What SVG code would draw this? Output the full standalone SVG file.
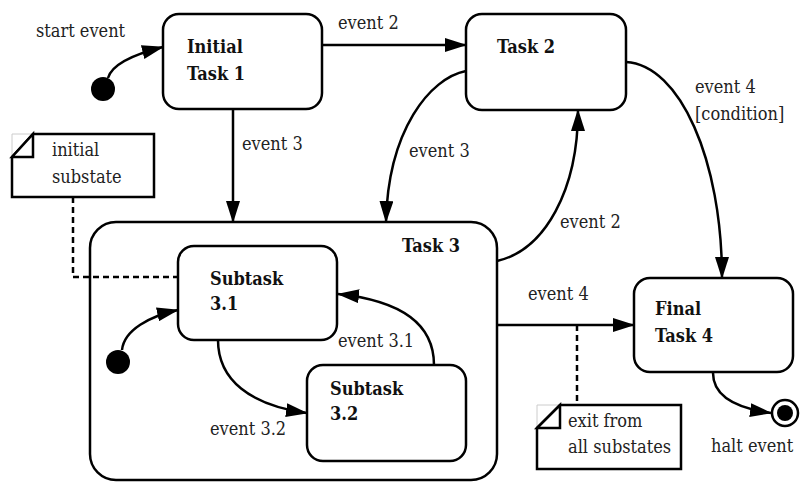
<svg xmlns="http://www.w3.org/2000/svg" width="800" height="482" viewBox="0 0 800 482">
<defs>
<marker id="arr" markerUnits="userSpaceOnUse" markerWidth="22" markerHeight="14" refX="21" refY="7" orient="auto">
<path d="M0,0 L22,7 L0,14 Z" fill="#000"/>
</marker>
<style>
.box{fill:#fff;stroke:#000;stroke-width:2.5}
.t{fill:#222}
.b{font-weight:bold;fill:#111}
.e{fill:none;stroke:#000;stroke-width:2.5;marker-end:url(#arr)}
.d{fill:none;stroke:#000;stroke-width:2.5;stroke-dasharray:6,4}
.note{fill:#fff;stroke:#000;stroke-width:2.5;stroke-linejoin:miter}
.ghost{fill:none;stroke:#ccc;stroke-width:1}
</style>
</defs>
<rect width="800" height="482" fill="#fff"/>
<g font-family="DejaVu Serif, Liberation Serif, serif" font-size="18" font-stretch="condensed">

<g id="task3">
<rect class="box" x="90" y="222" width="407" height="258" rx="26" ry="26"/>
<text class="b" x="402" y="252">Task 3</text>
</g>

<g id="connectors">
<path class="e" d="M108,78 C112,64 135,54 163,47"/>
<path class="e" d="M322,45 L466,45"/>
<path class="e" d="M233,109 L233,222"/>
<path class="e" d="M466,71 C430,78 388,130 386,222"/>
<path class="e" d="M497,261 C545,250 578,190 578,110"/>
<path class="e" d="M626,62 C680,65 722,160 722,278"/>
<path class="e" d="M497,325 L634,325"/>
<path class="e" d="M713,373 C713,395 735,408 771,413"/>
<path class="e" d="M218,340 C218,380 250,405 307,413"/>
<path class="e" d="M434,365 C434,320 395,300 338,294"/>
<path class="e" d="M122,350 C124,330 150,316 178,310"/>
<path class="d" d="M73,197 L73,277 L178,277"/>
<path class="d" d="M577,325 L577,405"/>
</g>

<g id="labels">
<text class="t" x="36" y="37">start event</text>
<text class="t" x="338" y="29">event 2</text>
<text class="t" x="242" y="150">event 3</text>
<text class="t" x="409" y="157">event 3</text>
<text class="t" x="560" y="228">event 2</text>
<text class="t" x="695" y="93">event 4</text>
<text class="t" x="695" y="120">[condition]</text>
<text class="t" x="528" y="300">event 4</text>
<text class="t" x="338" y="347">event 3.1</text>
<text class="t" x="210" y="435">event 3.2</text>
<text class="t" x="711" y="452">halt event</text>
</g>

<g id="start">
<circle cx="103" cy="89" r="12" fill="#000"/>
</g>

<g id="task1">
<rect class="box" x="163" y="14" width="159" height="95" rx="16" ry="16"/>
<text class="b" x="187" y="53">Initial</text>
<text class="b" x="187" y="80">Task 1</text>
</g>

<g id="task2">
<rect class="box" x="466" y="14" width="160" height="96" rx="16" ry="16"/>
<text class="b" x="497" y="53">Task 2</text>
</g>

<g id="subtask31">
<rect class="box" x="178" y="246" width="159" height="94" rx="16" ry="16"/>
<text class="b" x="210" y="285">Subtask</text>
<text class="b" x="210" y="310">3.1</text>
</g>

<g id="subtask32">
<rect class="box" x="307" y="365" width="159" height="96" rx="16" ry="16"/>
<text class="b" x="330" y="395">Subtask</text>
<text class="b" x="330" y="420">3.2</text>
</g>

<g id="substart">
<circle cx="118" cy="362" r="12" fill="#000"/>
</g>

<g id="task4">
<rect class="box" x="634" y="278" width="159" height="94" rx="16" ry="16"/>
<text class="b" x="655" y="315">Final</text>
<text class="b" x="655" y="342">Task 4</text>
</g>

<g id="halt">
<circle cx="785" cy="413" r="13" fill="#fff" stroke="#000" stroke-width="2.5"/>
<circle cx="785" cy="413" r="8" fill="#000"/>
</g>

<g id="note1">
<path class="ghost" d="M12,157 L12,134 L33,134"/>
<path class="note" d="M33,134 L154,134 L154,197 L12,197 L12,157 Z"/>
<path class="note" d="M12,157 L33,134 L33,157 Z"/>
<text class="t" x="52" y="156">initial</text>
<text class="t" x="52" y="183">substate</text>
</g>

<g id="note2">
<path class="ghost" d="M537,428 L537,405 L560,405"/>
<path class="note" d="M560,405 L681,405 L681,469 L537,469 L537,428 Z"/>
<path class="note" d="M537,428 L560,405 L560,428 Z"/>
<text class="t" x="568" y="427">exit from</text>
<text class="t" x="568" y="453">all substates</text>
</g>
</g>
</svg>
